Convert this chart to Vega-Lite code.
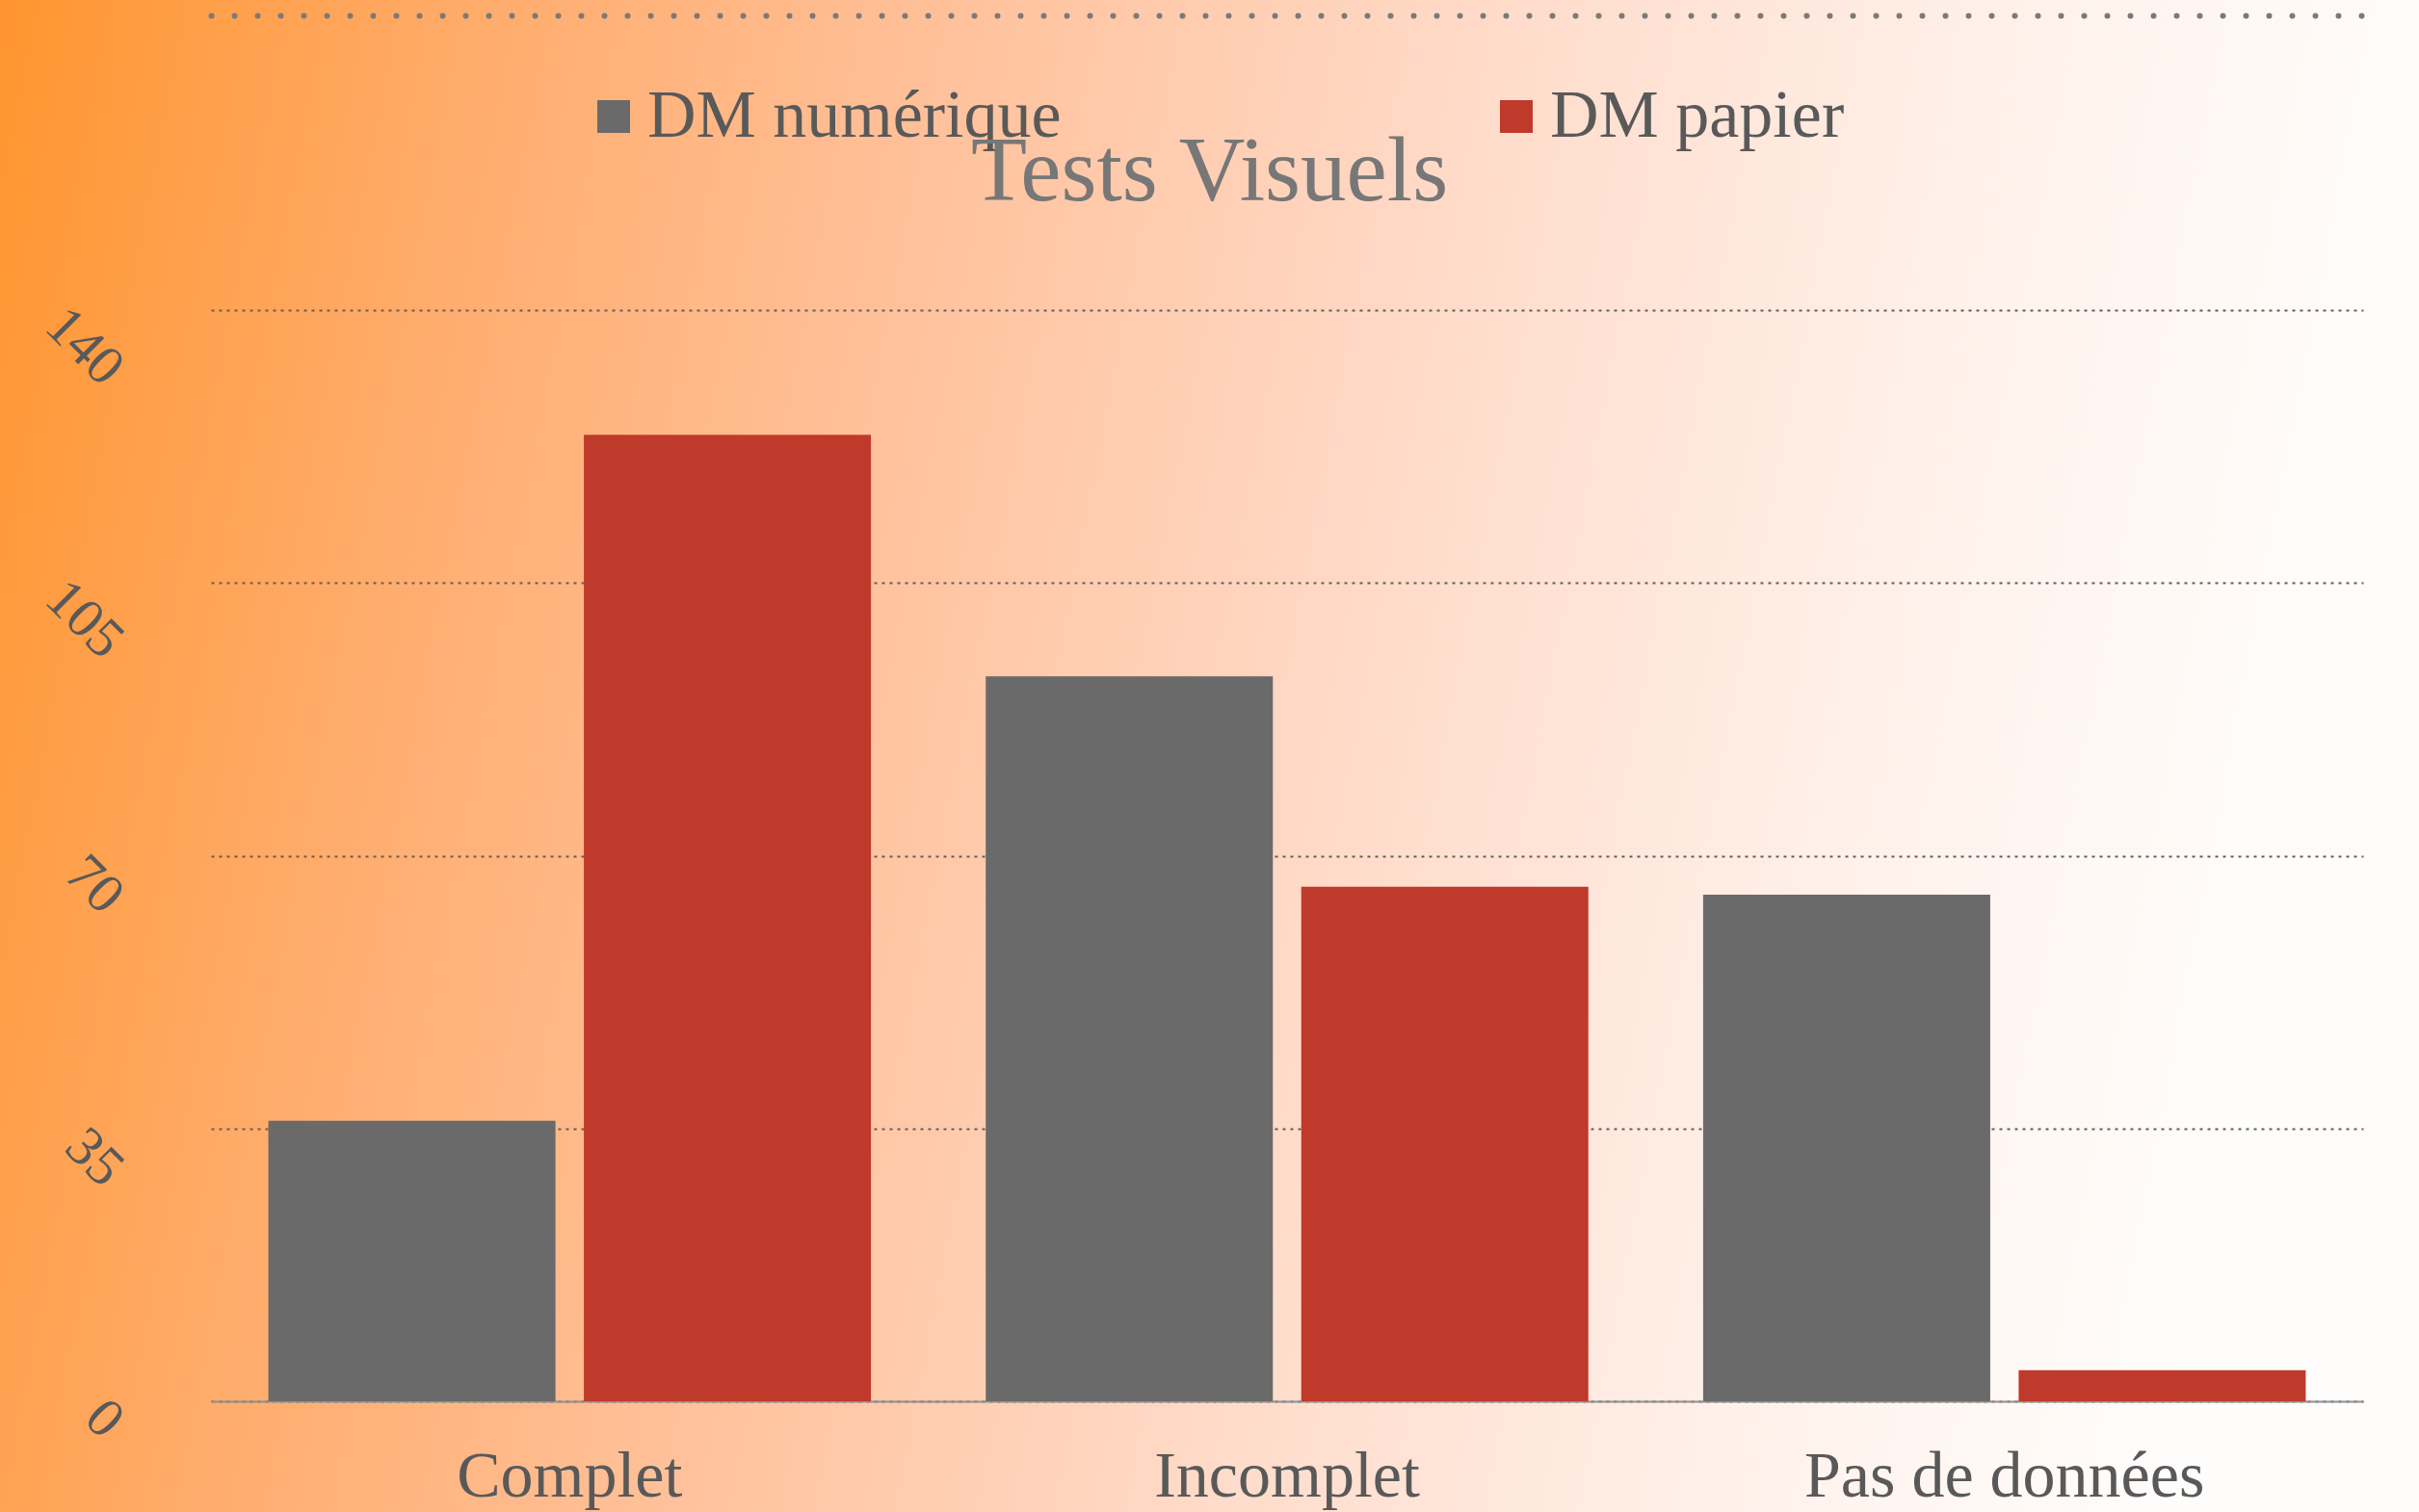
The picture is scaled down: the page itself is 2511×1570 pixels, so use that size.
{
  "$schema": "https://vega.github.io/schema/vega-lite/v6.json",
  "width": 2511,
  "height": 1570,
  "autosize": {"type": "none"},
  "padding": 0,
  "background": "#ffffff",
  "view": {
    "stroke": null,
    "fill": {
      "gradient": "linear",
      "x1": 0, "y1": 0, "x2": 1, "y2": 0.12,
      "stops": [
        {"offset": 0, "color": "#ff952f"},
        {"offset": 0.2, "color": "#ffac6c"},
        {"offset": 0.4, "color": "#ffc29d"},
        {"offset": 0.62, "color": "#ffdccb"},
        {"offset": 0.82, "color": "#fff1ea"},
        {"offset": 1, "color": "#fffdfc"}
      ]
    }
  },
  "config": {"font": "Liberation Serif"},
  "title": {
    "text": "Tests Visuels",
    "font": "Liberation Serif",
    "fontSize": 95,
    "fontWeight": "normal",
    "color": "#777777",
    "anchor": "middle",
    "baseline": "alphabetic",
    "offset": -303
  },
  "data": {
    "values": [
      {"cat": "Complet", "serie": "DM numérique", "val": 36},
      {"cat": "Complet", "serie": "DM papier", "val": 124},
      {"cat": "Incomplet", "serie": "DM numérique", "val": 93},
      {"cat": "Incomplet", "serie": "DM papier", "val": 66},
      {"cat": "Pas de données", "serie": "DM numérique", "val": 65},
      {"cat": "Pas de données", "serie": "DM papier", "val": 4}
    ]
  },
  "encoding": {
    "y": {
      "field": "val",
      "type": "quantitative",
      "scale": {"domain": [0, 140], "range": [1455, 322], "nice": false, "zero": true},
      "axis": {
        "orient": "left",
        "offset": -138,
        "values": [0, 35, 70, 105, 140],
        "title": null,
        "domain": false,
        "ticks": false,
        "tickSize": 0,
        "grid": true,
        "gridColor": "#5e5e5e",
        "gridDash": [3, 5],
        "gridWidth": 2,
        "labelFont": "Liberation Serif",
        "labelFontSize": 58,
        "labelColor": "#595959",
        "labelAngle": 45,
        "labelAlign": "right",
        "labelBaseline": "top",
        "labelPadding": 0,
        "labelFlush": false,
        "labelOverlap": false,
        "labelOffset": {
          "condition": [
            {"test": "datum.value >= 100", "value": 48},
            {"test": "datum.value === 0", "value": 8}
          ],
          "value": 30
        }
      }
    },
    "xOffset": {
      "field": "serie",
      "type": "nominal",
      "scale": {"domain": ["DM numérique", "DM papier"], "paddingInner": 0.09, "paddingOuter": 0}
    },
    "color": {
      "field": "serie",
      "type": "nominal",
      "scale": {"domain": ["DM numérique", "DM papier"], "range": ["#6a6a6a", "#bf3a2b"]},
      "legend": {
        "orient": "none",
        "legendX": 602,
        "legendY": 86,
        "direction": "horizontal",
        "title": null,
        "symbolType": "square",
        "symbolSize": 1156,
        "symbolStrokeWidth": 0,
        "symbolOpacity": 1,
        "labelFont": "Liberation Serif",
        "labelFontSize": 70,
        "labelColor": "#595959",
        "labelOffset": 0,
        "labelLimit": 0,
        "columnPadding": 437,
        "padding": 0
      }
    }
  },
  "layer": [
    {
      "transform": [{"filter": "datum.serie === 'DM numérique'"}],
      "mark": {"type": "bar"},
      "encoding": {
        "x": {
          "field": "cat",
          "type": "nominal",
          "scale": {"domain": ["Complet", "Incomplet", "Pas de données"], "range": [219, 2453], "paddingInner": 0.16, "paddingOuter": 0.08},
          "axis": {
            "orient": "bottom",
            "offset": -115,
            "title": null,
            "domain": true,
            "domainColor": "#8f8f8f",
            "domainWidth": 2,
            "ticks": false,
            "tickSize": 0,
            "grid": false,
            "labelFont": "Liberation Serif",
            "labelFontSize": 68,
            "labelColor": "#595959",
            "labelAngle": 0,
            "labelPadding": 98,
            "labelBaseline": "alphabetic",
            "labelLimit": 0
          }
        }
      }
    },
    {
      "transform": [{"filter": "datum.serie === 'DM papier'"}],
      "mark": {"type": "bar"},
      "encoding": {
        "x": {
          "field": "cat",
          "type": "nominal",
          "scale": {"domain": ["Complet", "Incomplet", "Pas de données"], "range": [219, 2453], "paddingInner": 0.16, "paddingOuter": 0.08},
          "axis": {
            "orient": "top",
            "offset": -16,
            "title": null,
            "domain": true,
            "domainColor": "#7a7a7a",
            "domainWidth": 6,
            "domainDash": [0, 24],
            "domainCap": "round",
            "labels": false,
            "ticks": false,
            "grid": false
          }
        }
      }
    }
  ],
  "resolve": {"axis": {"x": "independent"}}
}
